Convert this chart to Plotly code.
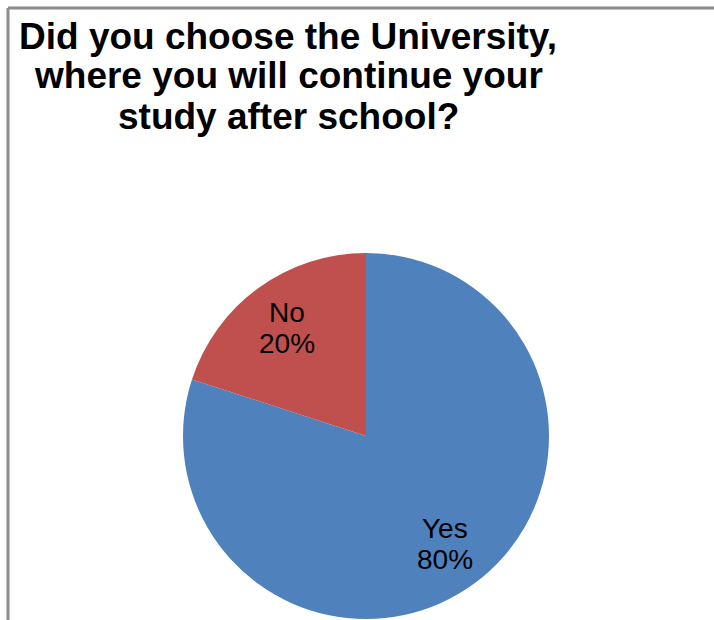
import numpy as np
import plotly.graph_objects as go

# Survey answers and their shares
answers = ["Yes", "No"]
shares = [80, 20]
slice_colors = ["#4F81BD", "#C0504D"]
title_lines = ["Did you choose the University,", "where you will continue your", "study after school?"]

W, H = 714, 620
cx, cy, r = 366, 436, 183  # pie center and radius in pixels
FONT = "Liberation Sans, Arial, sans-serif"

fig = go.Figure()
fig.add_trace(go.Pie(
    labels=answers,
    values=shares,
    marker=dict(colors=slice_colors, line=dict(width=0)),
    sort=False,
    direction="clockwise",
    rotation=0,
    textinfo="none",
    hoverinfo="label+percent",
    showlegend=False,
    domain=dict(x=[(cx - r) / W, (cx + r) / W], y=[(H - cy - r) / H, (H - cy + r) / H]),
))

annotations = []


def add_line(text, x, y, size, bold=False):
    annotations.append(dict(
        x=x / W, y=1 - y / H, xref="paper", yref="paper",
        text=f"<b>{text}</b>" if bold else text,
        showarrow=False, xanchor="center", yanchor="middle",
        font=dict(family=FONT, size=size, color="#000000"),
    ))


# Slice labels placed along each slice's mid-angle (two lines: name, percent)
total = float(sum(shares))
start = 0.0
for name, val in zip(answers, shares):
    frac = val / total
    mid = (start + frac / 2) * 2 * np.pi
    start += frac
    px = cx + 0.73 * r * np.sin(mid)
    py = cy - 0.73 * r * np.cos(mid)
    add_line(name, px, py - 15.5, 28)
    add_line(f"{round(frac * 100)}%", px, py + 15.5, 28)

# Title, three centered bold lines
for i, t in enumerate(title_lines):
    add_line(t, 288, 36 + 40 * i, 37, bold=True)

# Chart-area frame (left and top edges)
frame = [
    dict(type="line", xref="paper", yref="paper", x0=8 / W, x1=8 / W, y0=0, y1=1 - 8 / H,
         line=dict(color="#8C8C8C", width=3)),
    dict(type="line", xref="paper", yref="paper", x0=8 / W, x1=1, y0=1 - 8 / H, y1=1 - 8 / H,
         line=dict(color="#8C8C8C", width=3)),
]

fig.update_layout(
    width=W, height=H,
    margin=dict(l=0, r=0, t=0, b=0),
    paper_bgcolor="white",
    plot_bgcolor="white",
    annotations=annotations,
    shapes=frame,
)

fig.write_html("out.html")
